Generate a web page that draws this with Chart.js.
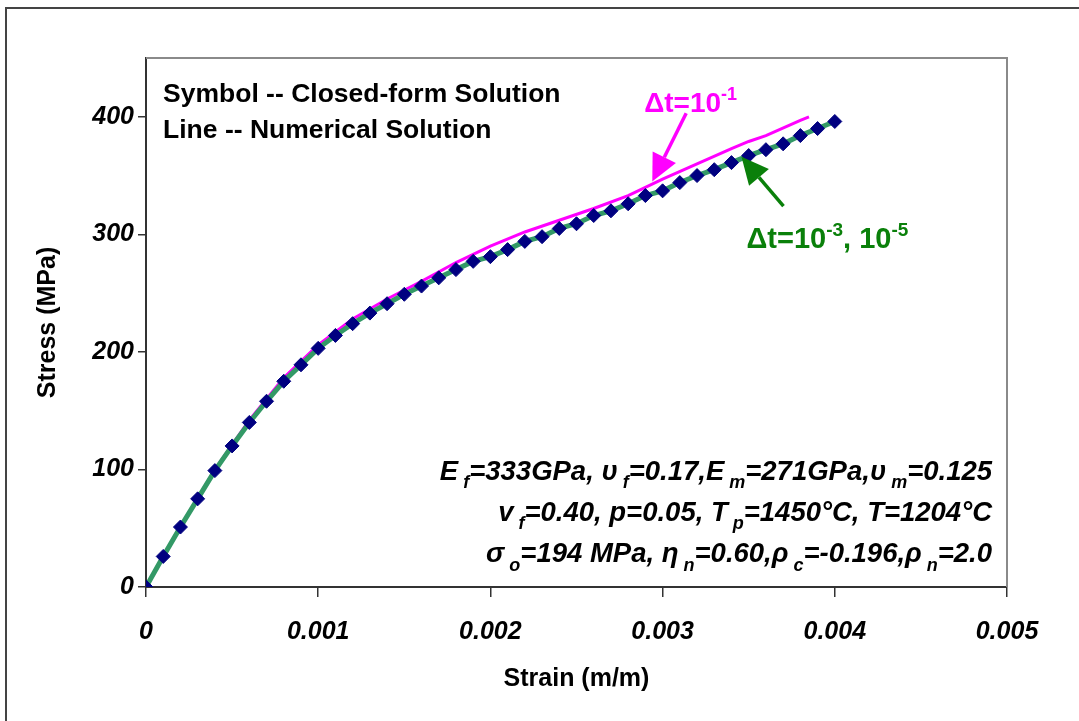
<!DOCTYPE html>
<html>
<head>
<meta charset="utf-8">
<script src="https://cdn.jsdelivr.net/npm/chart.js@4.4.0/dist/chart.umd.min.js"></script>
<style>
  body { margin: 0; background: #fff; overflow: hidden; }
  #frame { position: absolute; left: 5px; top: 7px; width: 1100px; height: 800px; border: 2px solid #444; box-sizing: border-box; }
  canvas { position: absolute; left: 0; top: 0; }
</style>
</head>
<body>
<div id="frame"></div>
<canvas id="c" width="1079" height="721"></canvas>
<script>
// closed-form solution (symbols), strain in m/m, stress in MPa
const strainSym = [0, 0.0001, 0.0002, 0.0003, 0.0004, 0.0005, 0.0006, 0.0007, 0.0008, 0.0009,
  0.001, 0.0011, 0.0012, 0.0013, 0.0014, 0.0015, 0.0016, 0.0017, 0.0018, 0.0019,
  0.002, 0.0021, 0.0022, 0.0023, 0.0024, 0.0025, 0.0026, 0.0027, 0.0028, 0.0029,
  0.003, 0.0031, 0.0032, 0.0033, 0.0034, 0.0035, 0.0036, 0.0037, 0.0038, 0.0039, 0.004];
const stressClosed = [0, 26, 51, 75, 99, 120, 140, 158, 175, 189,
  203, 214, 224, 233, 241, 249, 256, 263, 270, 277,
  281, 287, 294, 298, 305, 309, 316, 320, 326, 333,
  337, 344, 350, 355, 361, 367, 372, 377, 384, 390, 396];
// numerical, dt = 1e-3 and 1e-5 (on top of the symbols)
const stressFine = [0, 26, 51, 75, 99, 120, 140, 158, 175, 189,
  203, 214, 224, 233, 241, 249, 256, 263, 270, 277,
  281, 287, 294, 298, 305, 309, 316, 320, 326, 333,
  337, 344, 350, 355, 361, 367, 372, 377, 384, 390, 396];
// numerical, dt = 1e-1
const strainCoarse = [0, 0.0002, 0.0004, 0.0006, 0.0008, 0.001, 0.0012, 0.0014, 0.0016, 0.0018,
  0.002, 0.0022, 0.0024, 0.0026, 0.0028, 0.003, 0.0032, 0.0034, 0.0035, 0.0036, 0.0038, 0.00385];
const stressCoarse = [0, 51, 100, 142, 178, 206, 228, 245, 260, 276,
  290, 302, 312, 322, 333, 347, 360, 373, 379, 384, 397, 400];

const yTickValues = [0, 100, 200, 300, 400];

const FONT = "'Liberation Sans', Arial, sans-serif";

function pts(xs, ys) {
  return xs.map((x, i) => ({ x: x, y: ys[i] }));
}

function richText(ctx, parts, x, y, align, size, italic) {
  const style = (italic ? 'italic ' : '') + 'bold ';
  const small = Math.round(size * 0.64);
  let total = 0;
  parts.forEach(p => {
    ctx.font = style + (p[1] === 'n' ? size : small) + 'px ' + FONT;
    total += ctx.measureText(p[0]).width;
  });
  let cx = align === 'right' ? x - total : x;
  ctx.textBaseline = 'alphabetic';
  ctx.textAlign = 'left';
  parts.forEach(p => {
    let s = size, dy = 0;
    if (p[1] === 'sub') { s = small; dy = size * 0.3; }
    if (p[1] === 'sup') { s = small; dy = -size * 0.42; }
    ctx.font = style + s + 'px ' + FONT;
    ctx.fillText(p[0], cx, y + dy);
    cx += ctx.measureText(p[0]).width;
  });
}

function arrow(ctx, x1, y1, x2, y2, color) {
  const ang = Math.atan2(y2 - y1, x2 - x1);
  const hl = 27, hw = 13;
  const bx = x2 - hl * Math.cos(ang), by = y2 - hl * Math.sin(ang);
  ctx.strokeStyle = color;
  ctx.fillStyle = color;
  ctx.lineWidth = 3.5;
  ctx.beginPath();
  ctx.moveTo(x1, y1);
  ctx.lineTo(bx, by);
  ctx.stroke();
  ctx.beginPath();
  ctx.moveTo(x2, y2);
  ctx.lineTo(bx + hw * Math.sin(ang), by - hw * Math.cos(ang));
  ctx.lineTo(bx - hw * Math.sin(ang), by + hw * Math.cos(ang));
  ctx.closePath();
  ctx.fill();
}

const notes = {
  id: 'notes',
  beforeDatasetsDraw(chart) {
    const { ctx, chartArea: a } = chart;
    ctx.save();
    ctx.strokeStyle = '#8a8a8a';
    ctx.lineWidth = 2;
    ctx.beginPath();
    ctx.moveTo(a.left, a.top);
    ctx.lineTo(a.right, a.top);
    ctx.lineTo(a.right, a.bottom);
    ctx.stroke();
    ctx.restore();
  },
  afterDraw(chart) {
    const { ctx } = chart;
    const xs = chart.scales.x, ys = chart.scales.y;
    const X = v => xs.getPixelForValue(v), Y = v => ys.getPixelForValue(v);
    ctx.save();
    ctx.fillStyle = '#000';
    ctx.font = 'bold 26.5px ' + FONT;
    ctx.textAlign = 'left';
    ctx.textBaseline = 'middle';
    ctx.fillText('Symbol -- Closed-form Solution', X(0.000099), Y(419));
    ctx.fillText('Line -- Numerical Solution', X(0.000099), Y(388));

    ctx.fillStyle = '#ff00ff';
    richText(ctx, [['\u0394t=10', 'n'], ['-1', 'sup']], X(0.002893), Y(404), 'left', 28, false);
    arrow(ctx, X(0.003137), Y(403), X(0.00294), Y(345), '#ff00ff');

    ctx.fillStyle = '#0a800a';
    richText(ctx, [['\u0394t=10', 'n'], ['-3', 'sup'], [', 10', 'n'], ['-5', 'sup']], X(0.003487), Y(288), 'left', 29, false);
    arrow(ctx, X(0.003702), Y(324), X(0.003458), Y(366), '#0a800a');

    ctx.fillStyle = '#000';
    const rx = X(0.004913);
    richText(ctx, [['E', 'n'], [' f', 'sub'], ['=333GPa, \u03c5', 'n'], [' f', 'sub'], ['=0.17,E', 'n'], [' m', 'sub'],
      ['=271GPa,\u03c5', 'n'], [' m', 'sub'], ['=0.125', 'n']], rx, Y(91), 'right', 27.5, true);
    richText(ctx, [['v', 'n'], [' f', 'sub'], ['=0.40, p=0.05, T', 'n'], [' p', 'sub'], ['=1450\u00b0C, T=1204\u00b0C', 'n']],
      rx, Y(56), 'right', 27.5, true);
    richText(ctx, [['\u03c3', 'n'], [' o', 'sub'], ['=194 MPa, \u03b7', 'n'], [' n', 'sub'], ['=0.60,\u03c1', 'n'], [' c', 'sub'],
      ['=-0.196,\u03c1', 'n'], [' n', 'sub'], ['=2.0', 'n']], rx, Y(21), 'right', 27.5, true);
    ctx.restore();
  }
};

const tickFont = { family: FONT, size: 25, style: 'italic', weight: 'bold' };
const titleFont = { family: FONT, size: 25, weight: 'bold' };

new Chart(document.getElementById('c'), {
  type: 'line',
  data: {
    datasets: [
      {
        label: 'Closed-form',
        data: pts(strainSym, stressClosed),
        showLine: false,
        pointStyle: 'rectRot',
        pointRadius: 7,
        pointBackgroundColor: '#000080',
        pointBorderColor: '#000080',
        pointBorderWidth: 1,
        order: 0
      },
      {
        label: 'dt=1e-3, 1e-5',
        data: pts(strainSym, stressFine),
        borderColor: '#339966',
        borderWidth: 5,
        pointRadius: 0,
        tension: 0,
        order: 1
      },
      {
        label: 'dt=1e-1',
        data: pts(strainCoarse, stressCoarse),
        borderColor: '#ff00ff',
        borderWidth: 3,
        pointRadius: 0,
        tension: 0,
        order: 2
      }
    ]
  },
  options: {
    responsive: false,
    devicePixelRatio: 1,
    animation: false,
    layout: { padding: { top: 58, right: 72, left: 0, bottom: 0 } },
    plugins: { legend: { display: false }, tooltip: { enabled: false } },
    scales: {
      x: {
        type: 'linear',
        min: 0,
        max: 0.005,
        afterFit(scale) { scale.height = 134; },
        ticks: {
          stepSize: 0.001,
          color: '#000',
          font: tickFont,
          padding: 20,
          maxRotation: 0,
          callback: v => (v === 0 ? '0' : v.toFixed(3))
        },
        grid: { drawOnChartArea: false, drawTicks: true, tickLength: 10, color: '#333', lineWidth: 1.5 },
        border: { display: true, color: '#333', width: 2 },
        title: { display: true, text: 'Strain (m/m)', color: '#000', font: titleFont, padding: { top: 0, bottom: 27 } }
      },
      y: {
        type: 'linear',
        min: 0,
        max: 450,
        afterFit(scale) { scale.width = 146; },
        afterBuildTicks(scale) {
          scale.ticks = yTickValues.map(v => ({ value: v }));
        },
        ticks: { color: '#000', font: tickFont, padding: 4 },
        grid: { drawOnChartArea: false, drawTicks: true, tickLength: 8, color: '#333', lineWidth: 1.5 },
        border: { display: true, color: '#333', width: 2 },
        title: { display: true, text: 'Stress (MPa)', color: '#000', font: titleFont, padding: { top: 33, bottom: 0 } }
      }
    }
  },
  plugins: [notes]
});
</script>
</body>
</html>
